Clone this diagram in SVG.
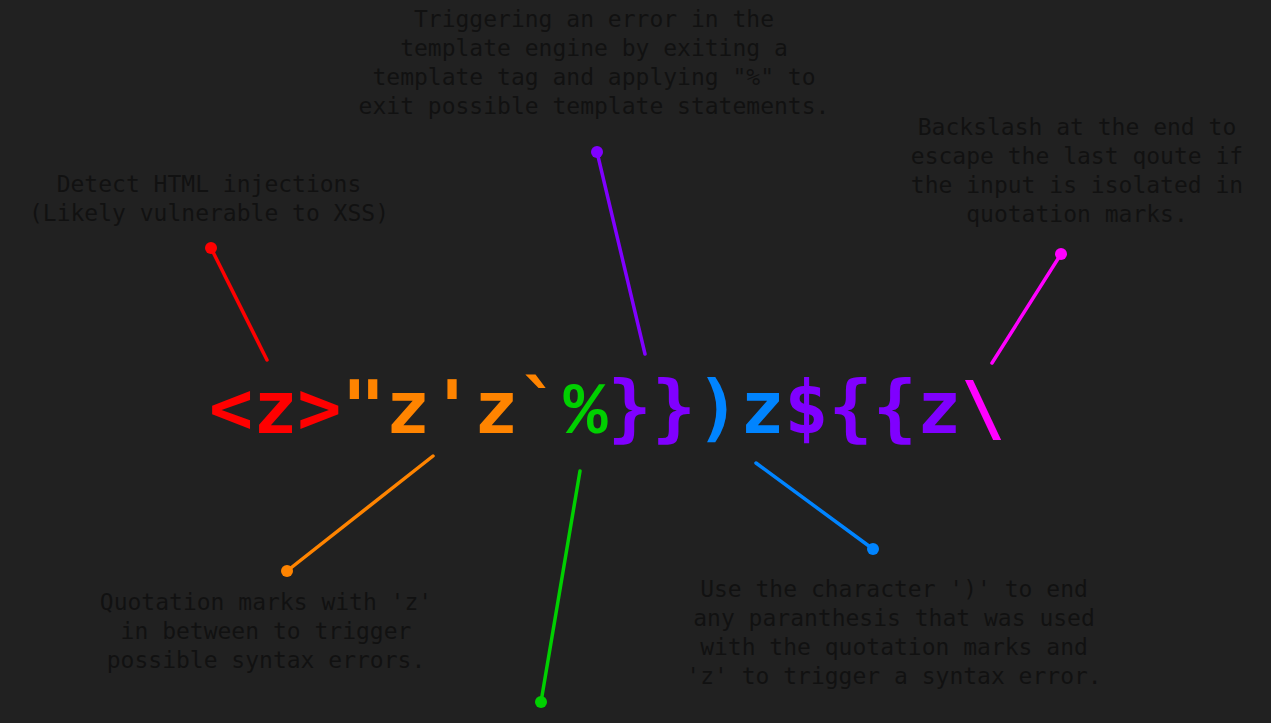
<svg xmlns="http://www.w3.org/2000/svg" width="1271" height="723" viewBox="0 0 1271 723">
<style>
.lbl{font-family:"DejaVu Sans Mono","Liberation Mono",monospace;font-size:23px;fill:#111111;text-anchor:middle}
.main{font-family:"DejaVu Sans Mono","Liberation Mono",monospace;font-size:73.4px;font-weight:bold}
.pct{font-family:"Liberation Mono","DejaVu Sans Mono",monospace}
.c line{stroke-width:3.5;stroke-linecap:round}
</style>
<rect width="1271" height="723" fill="#212121"/>
<g id="payload">
<text class="main" x="209" y="433"><tspan fill="#ff0000">&lt;z&gt;</tspan><tspan fill="#ff8400">"z'z`</tspan><tspan fill="#00d000" class="pct" x="563.4">%</tspan><tspan fill="#8000ff" x="607.6">}}</tspan><tspan fill="#0084ff">)z</tspan><tspan fill="#8000ff">${{z</tspan><tspan fill="#ff00ff">\</tspan></text>
</g>
<g id="connectors" class="c">
<line x1="211" y1="248" x2="267" y2="360" stroke="#ff0000"/>
<circle cx="211" cy="248" r="6" fill="#ff0000"/>
<line x1="597" y1="152" x2="645" y2="354" stroke="#8000ff"/>
<circle cx="597" cy="152" r="6" fill="#8000ff"/>
<line x1="1061" y1="254" x2="992" y2="363" stroke="#ff00ff"/>
<circle cx="1061" cy="254" r="6" fill="#ff00ff"/>
<line x1="287" y1="571" x2="433" y2="456" stroke="#ff8400"/>
<circle cx="287" cy="571" r="6" fill="#ff8400"/>
<line x1="541" y1="702" x2="580" y2="471" stroke="#00d000"/>
<circle cx="541" cy="702" r="6" fill="#00d000"/>
<line x1="873" y1="549" x2="756" y2="463" stroke="#0084ff"/>
<circle cx="873" cy="549" r="6" fill="#0084ff"/>
</g>
<g id="label-html">
<text class="lbl" x="209" y="192">Detect HTML injections</text>
<text class="lbl" x="209" y="221">(Likely vulnerable to XSS)</text>
</g>
<g id="label-template">
<text class="lbl" x="594" y="27">Triggering an error in the</text>
<text class="lbl" x="594" y="56">template engine by exiting a</text>
<text class="lbl" x="594" y="85">template tag and applying "%" to</text>
<text class="lbl" x="594" y="114">exit possible template statements.</text>
</g>
<g id="label-backslash">
<text class="lbl" x="1077" y="135">Backslash at the end to</text>
<text class="lbl" x="1077" y="164">escape the last qoute if</text>
<text class="lbl" x="1077" y="193">the input is isolated in</text>
<text class="lbl" x="1077" y="222">quotation marks.</text>
</g>
<g id="label-quotes">
<text class="lbl" x="266" y="610">Quotation marks with 'z'</text>
<text class="lbl" x="266" y="639">in between to trigger</text>
<text class="lbl" x="266" y="668">possible syntax errors.</text>
</g>
<g id="label-paren">
<text class="lbl" x="894" y="597">Use the character ')' to end</text>
<text class="lbl" x="894" y="626">any paranthesis that was used</text>
<text class="lbl" x="894" y="655">with the quotation marks and</text>
<text class="lbl" x="894" y="684">'z' to trigger a syntax error.</text>
</g>
</svg>
